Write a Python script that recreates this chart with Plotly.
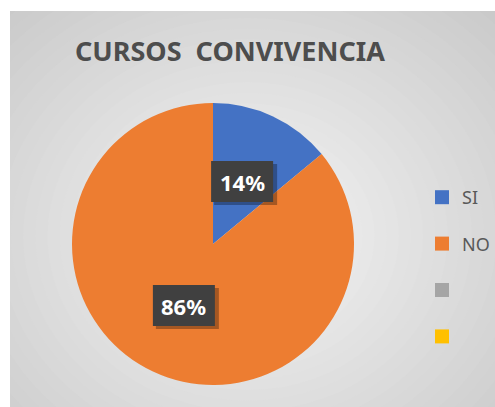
import math
import plotly.graph_objects as go

title_text = "CURSOS\u00a0\u00a0CONVIVENCIA"
labels = ["SI", "NO", "\u00a0", "\u00a0\u00a0"]
values = [14, 86, 0, 0]
colors = ["#4472C4", "#ED7D31", "#A5A5A5", "#FFC000"]

W, H = 495, 407
cx_px, cy_px, R_px = 213, 244, 141
dom_x = [(cx_px - R_px) / W, (cx_px + R_px) / W]
dom_y = [(H - (cy_px + R_px)) / H, (H - (cy_px - R_px)) / H]

fig = go.Figure()
fig.add_trace(go.Pie(
    labels=labels, values=values, sort=False, direction="clockwise", rotation=0,
    marker=dict(colors=colors, line=dict(width=0)),
    textinfo="none", hoverinfo="label+percent", showlegend=False,
    domain=dict(x=dom_x, y=dom_y),
))

# legend entries (one group per category to control spacing)
for lab, col in zip(labels, colors):
    fig.add_trace(go.Scatter(
        x=[None], y=[None], mode="markers", name=lab, legendgroup=lab,
        marker=dict(symbol="square", size=14, color=col),
        showlegend=True,
    ))

# background with soft radial gradient
shapes = [dict(type="rect", xref="paper", yref="paper", x0=0, x1=1, y0=0, y1=1,
               fillcolor="#c8c8c8", line=dict(width=0), layer="below")]
n = 30
for i in range(n):
    t = i / (n - 1)
    g = int(0xc8 + (0xf3 - 0xc8) * t)
    s = 0.95 * (1 - t) + 0.08
    shapes.append(dict(type="circle", xref="paper", yref="paper",
                       x0=0.5 - s * 0.75, x1=0.5 + s * 0.75,
                       y0=0.42 - s * 0.8, y1=0.42 + s * 0.8,
                       fillcolor=f"rgb({g},{g},{g})", line=dict(width=0), layer="below"))
# white outer margins
shapes.append(dict(type="rect", xref="paper", yref="paper", x0=0, x1=10 / W, y0=0, y1=1,
                   fillcolor="white", line=dict(width=0), layer="below"))
shapes.append(dict(type="rect", xref="paper", yref="paper", x0=0, x1=1, y0=1 - 11 / H, y1=1,
                   fillcolor="white", line=dict(width=0), layer="below"))

# data labels at mid-angle of each slice
annotations = []
total = sum(values)
cum = 0
for v in values:
    if v <= 0:
        continue
    mid = (cum + v / 2) / total * 2 * math.pi
    cum += v
    r = 0.485 * R_px
    px = cx_px + r * math.sin(mid)
    py = cy_px - r * math.cos(mid)
    ax, ay = px / W, (H - py) / H
    # shadow box
    shapes.append(dict(type="rect", xref="paper", yref="paper", xsizemode="pixel", ysizemode="pixel",
                       xanchor=ax, yanchor=ay, x0=-28, x1=35, y0=-23, y1=18,
                       fillcolor="rgba(0,0,0,0.3)", line=dict(width=0), layer="above"))
    # label box
    shapes.append(dict(type="rect", xref="paper", yref="paper", xsizemode="pixel", ysizemode="pixel",
                       xanchor=ax, yanchor=ay, x0=-31, x1=31, y0=-20, y1=21,
                       fillcolor="#404040", line=dict(width=0), layer="above"))
    annotations.append(dict(text=f"<b>{round(v / total * 100)}%</b>", xref="paper", yref="paper",
                            x=ax, y=ay, xanchor="center", yanchor="middle", showarrow=False,
                            font=dict(family="Noto Sans", size=22, color="white")))

annotations.append(dict(text=f"<b>{title_text}</b>", xref="paper", yref="paper",
                        x=230 / W, y=1 - 50 / H, xanchor="center", yanchor="middle",
                        showarrow=False,
                        font=dict(family="Noto Sans", size=27, color="#4d4d4d")))

fig.update_layout(
    width=W, height=H, margin=dict(l=0, r=0, t=0, b=0),
    paper_bgcolor="white", plot_bgcolor="rgba(0,0,0,0)",
    xaxis=dict(visible=False), yaxis=dict(visible=False),
    shapes=shapes, annotations=annotations,
    legend=dict(x=422 / W, xanchor="left", y=1 - 179 / H, yanchor="top",
                bgcolor="rgba(0,0,0,0)", tracegroupgap=20,
                font=dict(family="Noto Sans", size=18, color="#595959")),
)

fig.write_html("out.html", config={"displayModeBar": False},
               post_script="document.body.style.margin='0';")
